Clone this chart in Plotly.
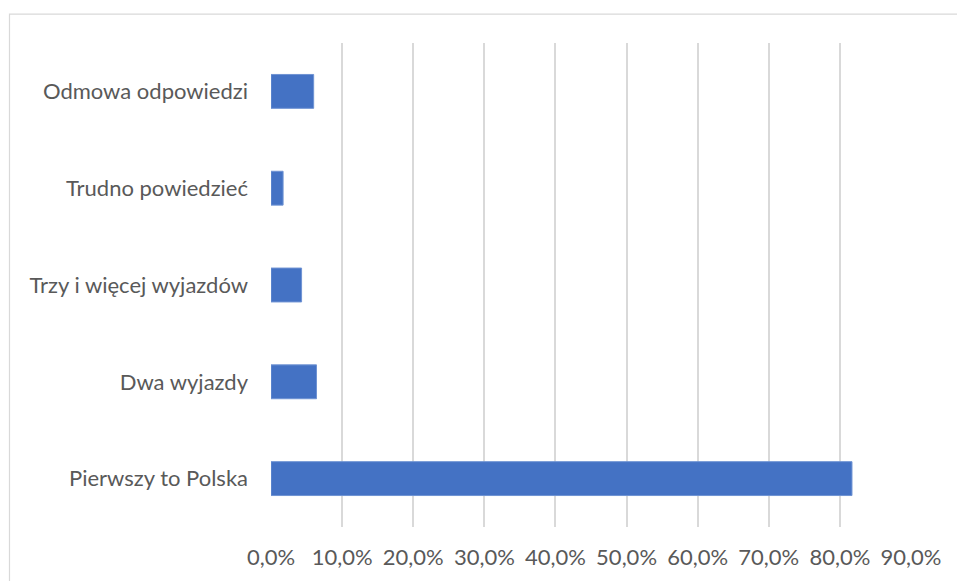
import plotly.graph_objects as go

categories = ["Pierwszy to Polska", "Dwa wyjazdy", "Trzy i więcej wyjazdów",
              "Trudno powiedzieć", "Odmowa odpowiedzi"]
values = [0.817, 0.064, 0.043, 0.017, 0.060]
x_ticks = [0.0, 0.1, 0.2, 0.3, 0.4, 0.5, 0.6, 0.7, 0.8, 0.9]
x_tick_labels = ["0,0%", "10,0%", "20,0%", "30,0%", "40,0%", "50,0%",
                 "60,0%", "70,0%", "80,0%", "90,0%"]

W, H = 957, 581
L, R, T, B = 271, 46, 42.5, 54
pw, ph = W - L - R, H - T - B

fig = go.Figure(go.Bar(
    x=values, y=categories, orientation="h",
    marker=dict(color="#4472C4", line=dict(color="#6f93d3", width=1)),
    width=0.35,
))

def px2x(px):
    return (px - L) / pw

def py2y(py):
    return (H - B - py) / ph

fig.add_shape(type="rect", xref="paper", yref="paper",
              x0=px2x(9.5), x1=px2x(W + 5), y0=py2y(H + 5), y1=py2y(13.5),
              line=dict(color="#d9d9d9", width=1.2), fillcolor="rgba(0,0,0,0)",
              layer="below")

font_family = "Lato, 'Open Sans', sans-serif"
fig.update_layout(
    width=W, height=H,
    margin=dict(l=L, r=R, t=T, b=B, pad=0),
    paper_bgcolor="white", plot_bgcolor="white",
    showlegend=False,
    font=dict(family=font_family, size=22, color="#595959"),
    xaxis=dict(range=[0, 0.9], tickvals=x_ticks, ticktext=x_tick_labels,
               showgrid=True, gridcolor="#d9d9d9", gridwidth=1.5,
               zeroline=False, showline=False, ticks="",
               ticklabelstandoff=15, fixedrange=True),
    yaxis=dict(categoryorder="array", categoryarray=categories,
               showgrid=False, zeroline=False, showline=False, ticks="",
               ticklabelstandoff=22, fixedrange=True),
)

fig.write_html("out.html", config={"displayModeBar": False},
               post_script="document.body.style.margin='0px';document.body.style.overflow='hidden';")
